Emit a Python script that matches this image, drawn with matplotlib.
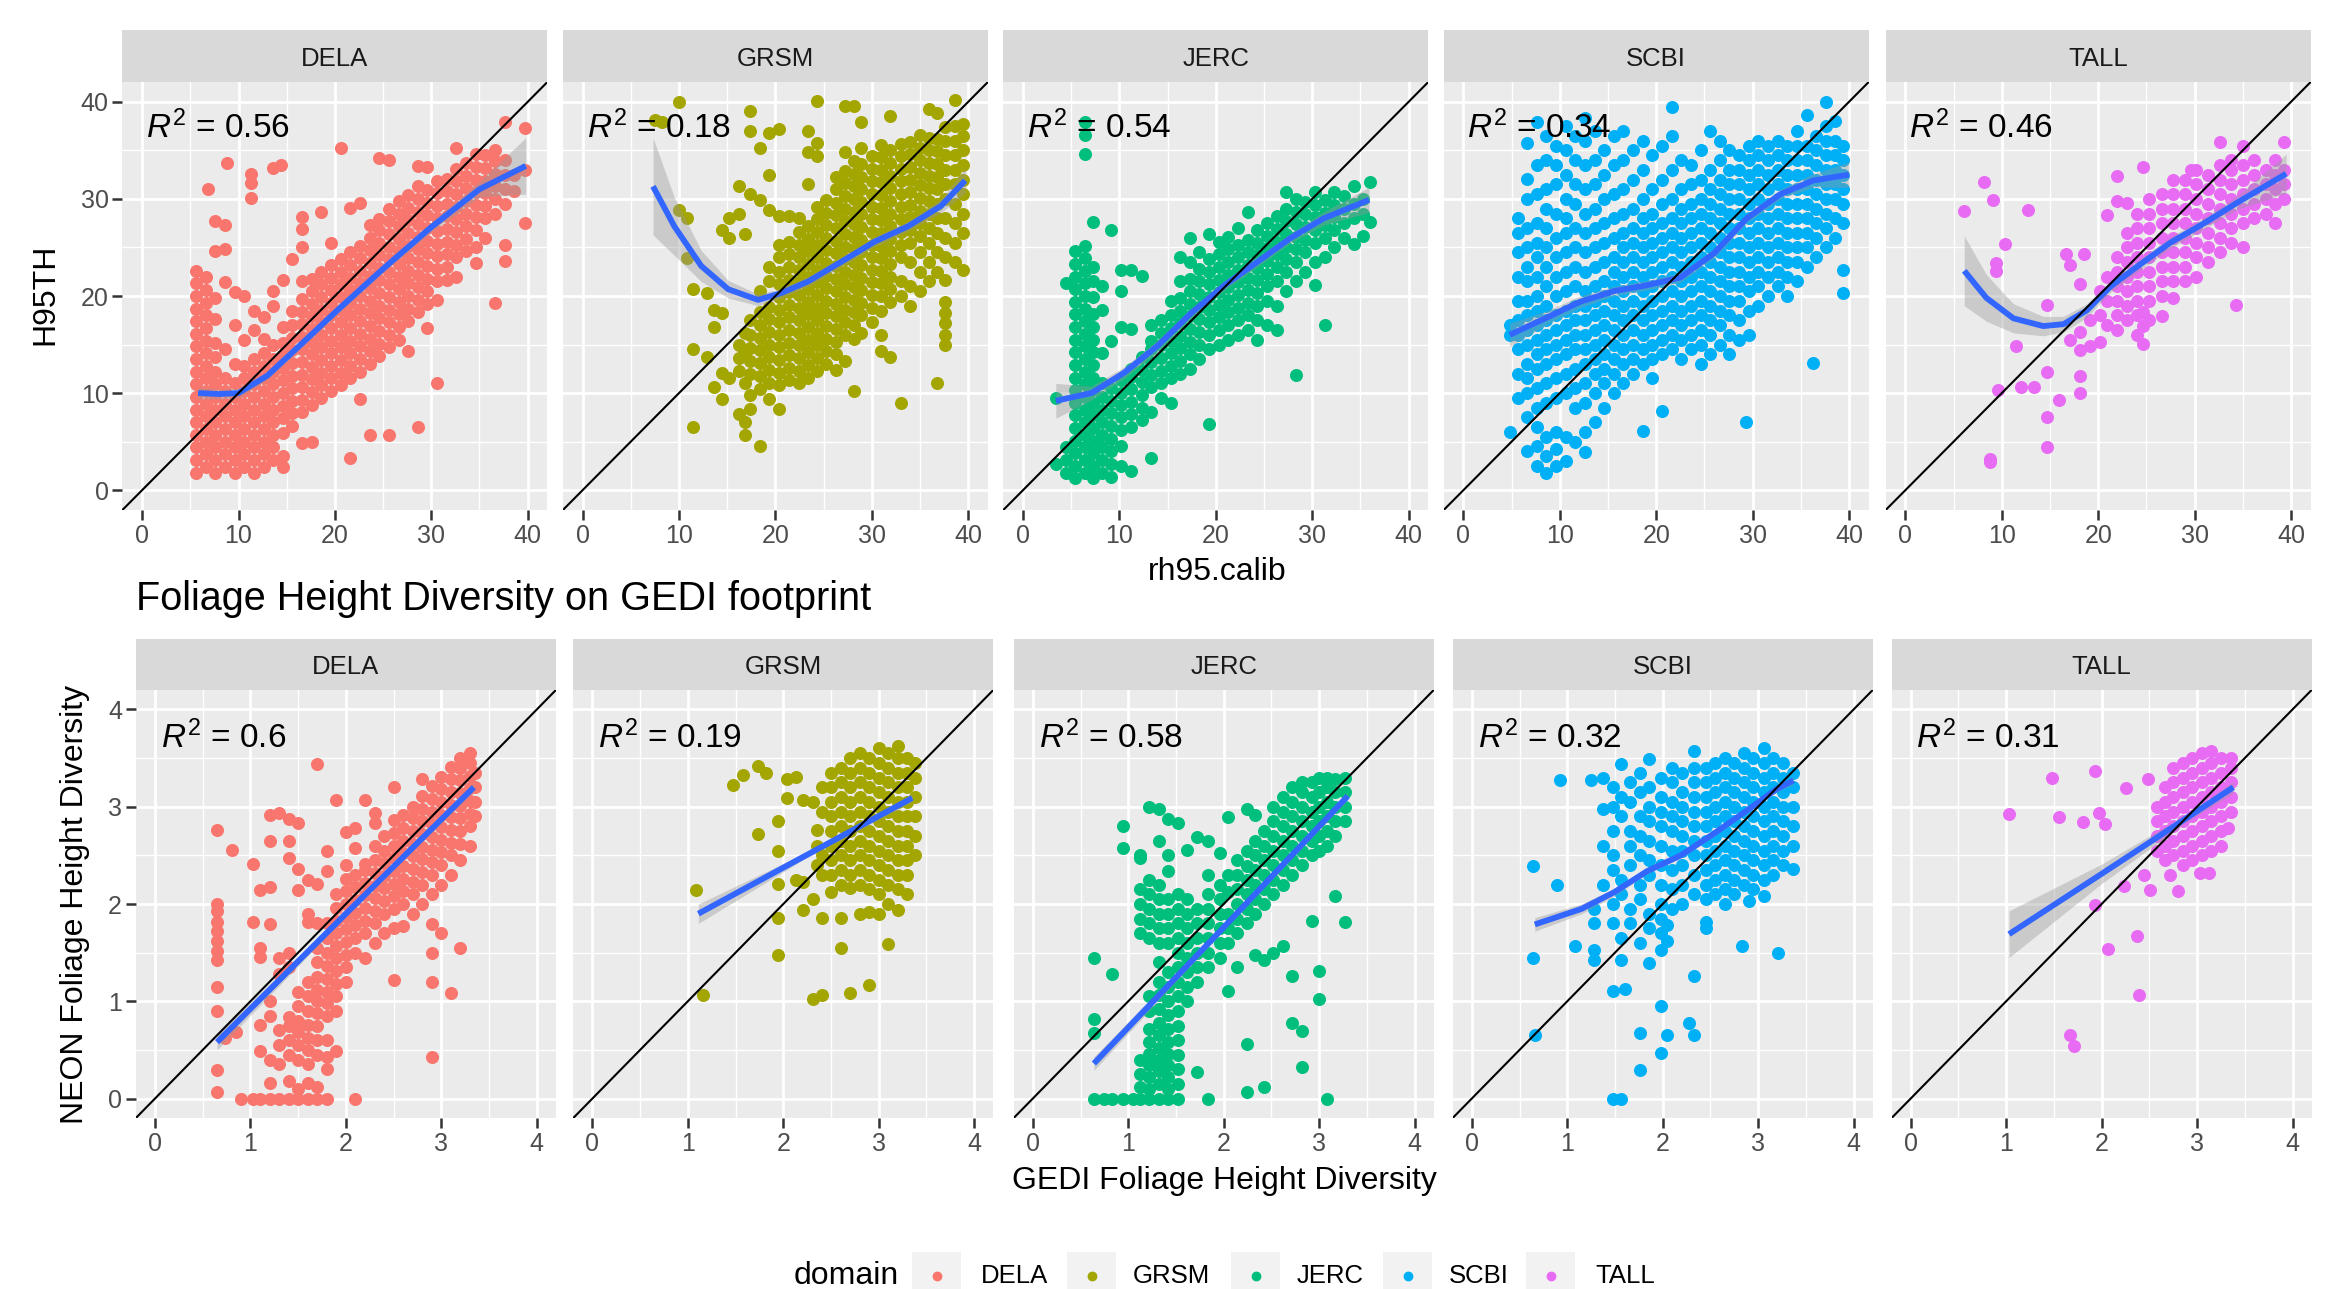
import numpy as np
import matplotlib
matplotlib.use("Agg")
import matplotlib.pyplot as plt
from matplotlib.patches import Rectangle

plt.rcParams['font.family'] = ['Liberation Sans', 'DejaVu Sans']
plt.rcParams['mathtext.fontset'] = 'custom'
plt.rcParams['mathtext.rm'] = 'Liberation Sans'
plt.rcParams['mathtext.it'] = 'Liberation Sans:italic'

domains = ["DELA", "GRSM", "JERC", "SCBI", "TALL"]
colors = ["#F8766D", "#A3A500", "#00BF7D", "#00B0F6", "#E76BF3"]
r2_rh95 = ["0.56", "0.18", "0.54", "0.34", "0.46"]
r2_fhd = ["0.6", "0.19", "0.58", "0.32", "0.31"]
rh95_ticks = [0, 10, 20, 30, 40]
fhd_ticks = [0, 1, 2, 3, 4]

# points, grouped as (x, [y values at that x])
# top row: rh95.calib vs H95TH
dela_rh95 = [
    (5.6, [1.8, 3.1, 4.4, 5.7, 7.0, 8.3, 9.6, 10.9, 12.2, 13.5, 14.8, 16.1, 17.4, 18.7, 20.0, 21.3, 22.6]),
    (6.6, [2.4, 3.7, 5.0, 6.3, 7.6, 8.9, 10.2, 11.5, 12.8, 14.1, 15.4, 16.7, 18.0, 19.3, 20.6, 22.0]),
    (6.8, [31.0]),
    (7.6, [1.8, 3.1, 4.4, 5.7, 7.0, 8.3, 9.6, 10.9, 12.2, 13.7, 15.2, 17.6, 19.8, 24.6, 27.7]),
    (8.6, [2.4, 3.7, 5.0, 6.3, 7.6, 8.9, 10.2, 11.6, 14.5, 21.4, 24.8, 27.3]),
    (8.8, [33.7]),
    (9.6, [1.8, 3.1, 4.4, 5.7, 7.0, 8.3, 9.6, 11.0, 13.0, 17.0, 20.4]),
    (10.6, [2.4, 3.7, 5.0, 6.3, 7.6, 8.9, 10.2, 11.5, 12.8, 15.5, 20.0]),
    (11.3, [30.1, 31.6, 32.6]),
    (11.6, [1.8, 3.1, 4.4, 5.7, 7.0, 8.3, 9.6, 10.9, 12.2, 13.5, 16.5, 18.5]),
    (12.6, [2.4, 3.7, 5.0, 6.3, 7.6, 8.9, 10.2, 11.5, 12.8, 14.1, 15.6, 17.8]),
    (13.6, [3.1, 4.4, 5.7, 7.0, 8.3, 9.6, 10.9, 12.2, 13.5, 15.0, 19.0, 20.5, 33.2]),
    (14.4, [33.5]),
    (14.6, [2.4, 3.5, 5.9, 7.4, 8.7, 10.0, 11.3, 12.6, 13.9, 15.2, 16.8, 21.6]),
    (15.6, [6.6, 7.9, 9.2, 10.5, 11.8, 13.1, 14.4, 15.7, 17.0, 18.5, 23.8]),
    (16.6, [4.9, 8.0, 9.3, 10.6, 11.9, 13.2, 14.5, 15.8, 17.1, 18.4, 19.7, 21.5, 25.0, 26.9, 28.1]),
    (17.6, [5.0, 8.8, 10.1, 11.4, 12.7, 14.0, 15.3, 16.6, 17.9, 19.2, 20.5, 21.8]),
    (18.6, [9.5, 10.8, 12.1, 13.4, 14.7, 16.0, 17.3, 18.6, 19.9, 21.2, 22.5, 28.7]),
    (19.6, [10.2, 11.5, 12.8, 14.1, 15.4, 16.7, 18.0, 19.3, 20.6, 21.9, 23.2, 25.5]),
    (20.6, [10.8, 12.1, 13.4, 14.7, 16.0, 17.3, 18.6, 19.9, 21.2, 22.5, 23.8, 35.2]),
    (21.6, [3.3, 11.5, 12.8, 14.1, 15.4, 16.7, 18.0, 19.3, 20.6, 21.9, 23.2, 24.5, 29.1]),
    (22.6, [9.4, 12.2, 13.5, 14.8, 16.1, 17.4, 18.7, 20.0, 21.3, 22.6, 23.9, 25.2, 29.6]),
    (23.6, [5.7, 13.0, 14.3, 15.6, 16.9, 18.2, 19.5, 20.8, 22.1, 23.4, 24.7, 26.0, 27.3]),
    (24.6, [13.8, 15.1, 16.4, 17.7, 19.0, 20.3, 21.6, 22.9, 24.2, 25.5, 26.8, 27.9, 34.2]),
    (25.6, [5.7, 14.7, 16.0, 17.3, 18.6, 19.9, 21.2, 22.5, 23.8, 25.1, 26.4, 27.7, 29.0, 34.0]),
    (26.6, [15.5, 16.8, 18.1, 19.4, 20.7, 22.0, 23.3, 24.6, 25.9, 27.2, 28.5, 29.8]),
    (27.6, [14.3, 17.4, 18.7, 20.0, 21.3, 22.6, 23.9, 25.2, 26.5, 27.8, 29.1, 30.4]),
    (28.6, [6.5, 18.3, 19.6, 20.9, 22.2, 23.5, 24.8, 26.1, 27.4, 28.7, 30.0, 31.3, 33.4]),
    (29.6, [16.7, 19.2, 20.5, 21.8, 23.1, 24.4, 25.7, 27.0, 28.3, 29.6, 30.9, 33.3]),
    (30.6, [11.0, 19.6, 21.5, 22.8, 24.1, 25.4, 26.7, 28.0, 29.3, 30.6, 31.9]),
    (31.6, [21.6, 23.0, 24.3, 25.6, 26.9, 28.2, 29.5, 30.8, 32.1]),
    (32.6, [22.0, 24.0, 25.3, 26.6, 27.9, 29.2, 30.5, 31.8, 33.1, 35.2]),
    (33.6, [24.6, 25.9, 27.2, 28.5, 29.8, 31.1, 32.4, 33.7]),
    (34.6, [23.4, 25.0, 26.8, 28.1, 29.4, 30.7, 32.0, 33.3, 34.6]),
    (35.6, [26.0, 28.0, 29.3, 30.6, 31.9, 33.2, 34.5]),
    (36.6, [19.3, 28.5, 30.0, 31.3, 32.6, 33.9, 35.0]),
    (37.6, [23.6, 25.3, 29.5, 31.0, 32.5, 34.0, 37.9]),
    (38.6, [30.8, 32.5]),
    (39.7, [27.5, 33.0, 37.3]),
]

grsm_rh95 = [
    (7.5, [38.1]),
    (8.2, [37.9]),
    (10.0, [40.0, 28.9]),
    (10.8, [28.0, 23.9]),
    (11.5, [20.7, 14.5, 6.5]),
    (12.9, [20.3, 13.7]),
    (13.6, [18.6, 16.8, 10.6]),
    (14.5, [26.8, 18.2, 12.1, 9.4]),
    (15.2, [28.0, 26.0, 11.5]),
    (16.2, [31.3, 28.4, 12.3, 13.6, 15.0, 7.8]),
    (16.8, [26.4, 11.0, 14.4, 16.2, 7.0, 5.7]),
    (17.4, [39.1, 37.0, 30.5, 9.8, 12.0, 13.3, 14.6, 16.0, 17.5, 8.4]),
    (18.4, [35.2, 29.9, 10.4, 11.8, 13.1, 14.4, 15.7, 17.0, 18.4, 20.5, 4.5]),
    (19.3, [36.8, 32.5, 28.9, 9.4, 11.0, 12.4, 13.7, 15.0, 16.3, 17.6, 18.9, 21.5, 23.0]),
    (20.4, [37.2, 28.2, 8.4, 10.8, 12.1, 13.4, 14.7, 16.0, 17.3, 18.6, 19.9, 21.2, 22.5, 24.0, 25.3]),
    (21.4, [28.2, 11.3, 12.6, 13.9, 15.2, 16.5, 17.8, 19.1, 20.4, 21.7, 23.0, 24.3, 25.6]),
    (22.4, [11.0, 12.3, 13.6, 14.9, 16.2, 17.5, 18.8, 20.1, 21.4, 22.7, 24.0, 25.3, 26.6, 28.0]),
    (23.4, [37.0, 34.8, 31.5, 11.6, 12.9, 14.2, 15.5, 16.8, 18.1, 19.4, 20.7, 22.0, 23.3, 24.6, 25.9, 27.2]),
    (24.3, [40.1, 35.8, 34.4, 12.3, 13.6, 14.9, 16.2, 17.5, 18.8, 20.1, 21.4, 22.7, 24.0, 25.3, 26.6, 27.9, 29.2]),
    (25.3, [13.0, 14.3, 15.6, 16.9, 18.2, 19.5, 20.8, 22.1, 23.4, 24.7, 26.0, 27.3, 28.6, 29.9]),
    (26.3, [12.4, 14.0, 15.3, 16.6, 17.9, 19.2, 20.5, 21.8, 23.1, 24.4, 25.7, 27.0, 28.3, 29.6, 31.0, 32.3]),
    (27.2, [39.6, 34.8, 13.3, 16.0, 17.3, 18.6, 19.9, 21.2, 22.5, 23.8, 25.1, 26.4, 27.7, 29.0, 30.3, 31.6, 32.9]),
    (28.2, [39.6, 10.2, 15.6, 17.0, 18.3, 19.6, 20.9, 22.2, 23.5, 24.8, 26.1, 27.4, 28.7, 30.0, 31.3, 32.6, 33.9]),
    (28.9, [37.9, 35.3, 16.2, 18.0, 19.3, 20.6, 21.9, 23.2, 24.5, 25.8, 27.1, 28.4, 29.7, 31.0, 32.3, 33.6]),
    (30.0, [17.3, 18.8, 20.1, 21.4, 22.7, 24.0, 25.3, 26.6, 27.9, 29.2, 30.5, 31.8, 33.1, 34.4]),
    (31.0, [16.0, 14.3, 18.5, 20.0, 21.3, 22.6, 23.9, 25.2, 26.5, 27.8, 29.1, 30.4, 31.7, 33.0, 34.3, 35.6]),
    (31.9, [38.5, 13.7, 19.4, 20.7, 22.0, 23.3, 24.6, 25.9, 27.2, 28.5, 29.8, 31.1, 32.4, 33.7, 35.0]),
    (33.0, [9.0, 20.0, 21.5, 24.0, 25.3, 26.6, 27.9, 29.2, 30.5, 31.8, 33.1, 34.4, 35.7]),
    (34.0, [19.0, 21.0, 23.5, 25.5, 26.8, 28.1, 29.4, 30.7, 32.0, 33.3, 34.6, 35.9]),
    (35.0, [20.5, 22.5, 24.5, 26.2, 27.5, 28.8, 30.1, 31.4, 32.7, 34.0, 35.3, 36.6]),
    (35.9, [39.3, 21.5, 23.5, 25.5, 27.0, 28.5, 29.8, 31.1, 32.4, 33.7, 35.0, 36.3]),
    (36.8, [38.9, 22.5, 24.5, 26.5, 28.0, 29.5, 31.0, 32.3, 33.6, 34.9, 36.2, 11.0]),
    (37.6, [14.9, 16.0, 17.2, 18.2, 19.4, 21.7, 24.0, 26.0, 28.0, 30.0, 31.5, 33.0, 34.5, 36.0, 37.4]),
    (38.6, [40.2, 23.5, 25.5, 27.5, 29.5, 31.5, 33.0, 34.5, 36.0, 37.5]),
    (39.5, [22.7, 26.5, 28.5, 30.5, 32.0, 33.5, 35.0, 36.5, 37.7]),
]

jerc_rh95 = [
    (3.4, [2.7, 9.5]),
    (4.5, [1.8, 3.1, 4.4, 21.3]),
    (5.4, [1.2, 2.5, 3.8, 5.1, 6.4, 7.7, 9.0, 10.3, 11.6, 12.9, 14.2, 15.5, 16.8, 18.1, 19.4, 20.7, 22.0, 23.3, 24.6]),
    (6.4, [1.8, 3.1, 4.4, 5.7, 7.0, 8.3, 9.6, 10.9, 12.2, 13.5, 14.8, 16.1, 17.4, 18.7, 20.0, 21.3, 22.6, 23.9, 25.2, 34.6, 36.6, 37.9]),
    (7.3, [1.2, 2.5, 3.8, 5.1, 6.4, 7.7, 9.0, 10.3, 11.6, 12.9, 14.2, 15.5, 16.8, 18.1, 19.9, 21.5, 23.0, 27.6]),
    (8.2, [1.8, 3.1, 4.4, 5.7, 7.0, 8.3, 9.6, 11.0, 14.1, 18.6, 21.0]),
    (9.1, [1.4, 2.7, 4.0, 5.3, 6.6, 7.9, 9.2, 10.5, 15.4, 26.8]),
    (10.2, [2.5, 4.5, 6.2, 7.5, 8.8, 10.0, 11.3, 16.8, 20.5, 22.7]),
    (11.2, [2.0, 6.5, 7.8, 9.1, 10.4, 11.7, 12.5, 16.6, 22.7]),
    (12.3, [7.2, 8.5, 9.8, 11.1, 12.4, 13.7, 22.1]),
    (13.3, [3.3, 8.0, 10.6, 11.9, 13.2, 14.5, 15.4, 17.0]),
    (14.3, [9.5, 11.0, 12.3, 13.6, 14.9, 16.2, 17.5]),
    (15.3, [9.0, 11.5, 12.8, 14.1, 15.4, 16.7, 18.0, 19.5]),
    (16.3, [12.0, 13.3, 14.6, 15.9, 17.2, 18.5, 19.8, 21.5, 24.0]),
    (17.3, [12.5, 14.0, 15.3, 16.6, 17.9, 19.2, 20.5, 21.8, 23.5, 26.0]),
    (18.3, [13.5, 15.0, 16.3, 17.6, 18.9, 20.2, 21.5, 22.8, 24.5]),
    (19.3, [6.8, 14.5, 16.0, 17.3, 18.6, 19.9, 21.2, 22.5, 23.8, 26.4]),
    (20.3, [15.0, 16.5, 17.8, 19.1, 20.4, 21.7, 23.0, 24.3, 25.6]),
    (21.3, [15.5, 17.0, 18.3, 19.6, 20.9, 22.2, 23.5, 24.8, 26.1]),
    (22.3, [16.0, 17.5, 18.8, 20.1, 21.4, 22.7, 24.0, 25.3, 27.0]),
    (23.3, [16.5, 18.0, 19.3, 20.6, 21.9, 23.2, 24.5, 25.8, 28.7]),
    (24.3, [15.5, 17.5, 19.0, 20.3, 21.6, 22.9, 24.2, 25.5, 26.8]),
    (25.3, [17.0, 19.5, 21.0, 22.3, 23.6, 24.9, 26.2, 27.5]),
    (26.3, [16.5, 19.0, 21.5, 23.0, 24.3, 25.6, 26.9, 28.2]),
    (27.3, [20.5, 22.5, 23.8, 25.1, 26.4, 27.7, 29.0, 30.7]),
    (28.3, [11.9, 21.5, 23.5, 24.8, 26.1, 27.4, 28.7, 30.0]),
    (29.3, [22.5, 24.5, 25.8, 27.1, 28.4, 29.7]),
    (30.3, [21.1, 23.5, 25.5, 26.8, 28.1, 29.4, 30.7]),
    (31.3, [17.0, 24.0, 26.0, 27.3, 28.6, 29.9]),
    (32.3, [25.0, 26.8, 28.1, 29.4, 30.7]),
    (33.3, [26.0, 27.5, 29.0, 30.3]),
    (34.3, [25.4, 28.0, 29.5, 31.3]),
    (35.3, [26.2, 28.5, 30.0]),
    (36.0, [27.6, 31.7]),
]

scbi_rh95 = [
    (4.8, [6.0, 16.0, 17.0]),
    (5.7, [9.5, 12.0, 14.5, 16.0, 17.5, 19.5, 22.0, 24.5, 26.5, 28.0]),
    (6.6, [4.0, 7.5, 10.0, 11.5, 13.0, 15.0, 16.5, 18.0, 19.5, 21.5, 23.0, 25.0, 27.0, 30.0, 32.1, 35.8]),
    (7.6, [2.5, 4.5, 6.5, 8.5, 10.5, 12.5, 14.0, 15.5, 17.0, 18.5, 20.0, 22.0, 24.0, 25.5, 27.5, 30.5, 33.5, 37.9]),
    (8.6, [1.8, 3.5, 5.5, 9.0, 11.0, 13.0, 14.5, 16.0, 17.5, 19.0, 21.0, 23.0, 25.0, 27.0, 29.0, 31.0, 34.0, 36.5]),
    (9.6, [2.5, 4.2, 6.0, 9.5, 11.5, 13.5, 15.0, 16.5, 18.0, 20.0, 22.0, 24.0, 26.0, 28.5, 31.5, 33.5, 35.5]),
    (10.6, [3.0, 5.5, 10.0, 12.0, 14.0, 15.5, 17.0, 18.5, 20.5, 22.5, 24.5, 26.5, 28.0, 30.0, 32.5, 35.0, 37.5]),
    (11.6, [5.0, 8.5, 10.5, 12.5, 14.5, 16.0, 17.5, 19.0, 21.0, 23.0, 25.0, 27.0, 29.5, 31.5, 34.0, 36.5]),
    (12.6, [3.9, 6.0, 9.0, 11.0, 13.0, 14.5, 16.0, 17.5, 19.0, 20.5, 22.5, 24.5, 26.5, 28.5, 31.0, 33.5, 36.0, 38.3]),
    (13.6, [7.0, 10.0, 12.0, 13.5, 15.0, 16.5, 18.0, 19.5, 21.0, 23.0, 25.0, 27.0, 29.0, 31.5, 34.0, 37.0]),
    (14.6, [8.5, 11.0, 12.5, 14.0, 15.5, 17.0, 18.5, 20.0, 21.5, 23.5, 25.5, 27.5, 30.0, 32.5, 35.0]),
    (15.6, [10.0, 12.0, 13.5, 15.0, 16.5, 18.0, 19.5, 21.0, 22.5, 24.0, 26.0, 28.0, 30.5, 33.5, 36.5]),
    (16.6, [11.0, 13.0, 14.5, 16.0, 17.5, 19.0, 20.5, 22.0, 23.5, 25.0, 26.5, 28.5, 31.0, 34.0, 37.0]),
    (17.6, [12.0, 13.5, 15.0, 16.5, 18.0, 19.5, 21.0, 22.5, 24.0, 25.5, 27.0, 29.0, 32.0, 35.0]),
    (18.6, [6.1, 13.0, 14.5, 16.0, 17.5, 19.0, 20.5, 22.0, 23.5, 25.0, 26.5, 28.0, 30.0, 33.0, 36.0]),
    (19.6, [11.5, 13.5, 15.0, 16.5, 18.0, 19.5, 21.0, 22.5, 24.0, 25.5, 27.0, 28.5, 31.0, 34.5]),
    (20.6, [8.2, 14.0, 15.5, 17.0, 18.5, 20.0, 21.5, 23.0, 24.5, 26.0, 27.5, 29.5, 32.0, 35.5]),
    (21.6, [14.5, 16.0, 17.5, 19.0, 20.5, 22.0, 23.5, 25.0, 26.5, 28.0, 30.0, 33.0, 36.5, 39.5]),
    (22.6, [13.5, 15.5, 17.0, 18.5, 20.0, 21.5, 23.0, 24.5, 26.0, 27.5, 29.0, 31.0, 34.0]),
    (23.6, [14.5, 16.0, 17.5, 19.0, 20.5, 22.0, 23.5, 25.0, 26.5, 28.0, 29.5, 31.5, 33.5]),
    (24.6, [13.0, 15.0, 16.5, 18.0, 19.5, 21.0, 22.5, 24.0, 25.5, 27.0, 28.5, 30.0, 32.0, 35.0]),
    (25.6, [14.0, 16.0, 17.5, 19.0, 20.5, 22.0, 23.5, 25.0, 26.5, 28.0, 29.5, 31.0, 33.0, 37.0]),
    (26.6, [15.0, 17.0, 18.5, 20.0, 21.5, 23.0, 24.5, 26.0, 27.5, 29.0, 30.5, 32.0, 34.0, 36.0]),
    (27.6, [14.0, 16.0, 18.0, 19.5, 21.0, 22.5, 24.0, 25.5, 27.0, 28.5, 30.0, 31.5, 33.0, 35.0]),
    (28.6, [15.5, 17.5, 19.5, 21.0, 22.5, 24.0, 25.5, 27.0, 28.5, 30.0, 31.5, 33.0, 34.5]),
    (29.3, [7.0]),
    (29.6, [16.0, 18.5, 20.5, 22.0, 23.5, 25.0, 26.5, 28.0, 29.5, 31.0, 32.5, 34.0, 35.5]),
    (30.6, [19.0, 21.0, 22.5, 24.0, 25.5, 27.0, 28.5, 30.0, 31.5, 33.0, 34.5, 36.0]),
    (31.6, [20.0, 22.0, 23.5, 25.0, 26.5, 28.0, 29.5, 31.0, 32.5, 34.0, 35.5]),
    (32.6, [21.0, 22.5, 24.0, 25.5, 27.0, 28.5, 30.0, 31.5, 33.0, 34.5, 36.0]),
    (33.6, [20.0, 22.0, 23.5, 25.0, 26.5, 28.0, 29.5, 31.0, 32.5, 34.0, 35.5]),
    (34.6, [21.5, 23.5, 25.0, 26.5, 28.0, 29.5, 31.0, 32.5, 34.0, 35.5, 37.0]),
    (35.6, [23.0, 25.0, 26.5, 28.0, 29.5, 31.0, 32.5, 34.0, 35.5, 38.7]),
    (36.3, [13.1]),
    (36.6, [24.0, 26.0, 27.5, 29.0, 30.5, 32.0, 33.5, 35.0, 36.5]),
    (37.6, [25.0, 27.0, 28.5, 30.0, 31.5, 33.0, 34.5, 36.0, 37.5, 40.0]),
    (38.6, [26.0, 28.0, 30.0, 31.5, 33.0, 34.5, 36.0, 38.0]),
    (39.4, [20.3, 22.7, 27.5, 29.5, 31.0, 32.5, 34.0, 35.5]),
]

tall_rh95 = [
    (6.1, [28.8]),
    (8.1, [31.7]),
    (8.8, [2.9, 3.2]),
    (9.1, [29.9]),
    (9.4, [23.4, 22.6]),
    (9.6, [10.3]),
    (10.3, [25.4]),
    (11.5, [14.8]),
    (12.0, [10.6]),
    (12.7, [28.9]),
    (13.3, [10.6]),
    (14.7, [19.1, 12.2, 7.5, 4.4]),
    (15.9, [9.3]),
    (16.7, [24.3]),
    (17.1, [23.2, 15.5]),
    (18.1, [21.2, 16.3, 14.4, 11.8, 10.0]),
    (18.5, [24.3]),
    (19.2, [14.8, 17.5]),
    (20.2, [15.3, 18.0, 20.5]),
    (20.9, [28.3, 17.0, 19.5, 22.0]),
    (21.9, [32.4, 29.8, 16.5, 18.0, 19.5, 21.0, 22.5, 24.0]),
    (23.0, [29.6, 17.5, 19.0, 20.5, 22.0, 23.5, 25.0, 26.5]),
    (24.0, [16.0, 18.0, 19.5, 21.0, 22.5, 24.0, 25.5, 27.0, 28.5]),
    (24.7, [33.3, 15.1, 16.9, 18.3]),
    (25.3, [17.5, 19.5, 21.0, 22.5, 24.0, 25.5, 27.0, 28.5, 30.0]),
    (26.6, [17.9, 20.0, 21.5, 23.0, 24.5, 26.0, 27.5, 29.0, 30.5]),
    (27.8, [19.8, 21.5, 23.0, 24.5, 26.0, 27.5, 29.0, 30.5, 32.0]),
    (29.0, [21.5, 23.0, 24.5, 26.0, 27.5, 29.0, 30.5, 32.0]),
    (29.6, [33.0]),
    (30.2, [22.0, 24.0, 25.5, 27.0, 28.5, 30.0, 31.5, 33.0]),
    (31.4, [23.5, 25.0, 26.5, 28.0, 29.5, 31.0, 32.5]),
    (32.6, [24.5, 26.0, 27.5, 29.0, 30.5, 32.0, 33.5, 35.9]),
    (33.8, [25.5, 27.0, 28.5, 30.0, 31.5, 33.0, 34.0]),
    (34.3, [19.1]),
    (35.0, [25.1, 27.5, 29.0, 30.5, 32.0, 33.5, 35.5]),
    (36.2, [28.0, 29.5, 31.0, 32.5, 34.0]),
    (37.4, [28.5, 30.0, 31.5, 33.0]),
    (38.3, [27.5, 29.5, 31.0, 32.5, 34.0]),
    (39.3, [30.0, 31.5, 33.0, 35.9]),
]

# bottom row: GEDI vs NEON foliage height diversity
dela_fhd = [
    (0.65, [0.07, 0.29, 0.9, 1.15, 1.42, 1.52, 1.62, 1.72, 1.82, 1.93, 2.0, 2.76]),
    (0.73, [0.62]),
    (0.81, [2.56]),
    (0.85, [0.68]),
    (0.90, [0.0]),
    (1.03, [0.0, 1.81, 2.41]),
    (1.10, [0.0, 0.49, 0.76, 1.46, 1.55, 2.14]),
    (1.2, [0.0, 0.16, 0.4, 0.85, 1.0, 1.79, 2.17, 2.65, 2.91]),
    (1.3, [0.0, 0.36, 0.55, 0.7, 1.28, 1.45, 2.94]),
    (1.4, [0.0, 0.18, 0.45, 0.6, 0.75, 0.84, 1.35, 1.5, 2.47, 2.65, 2.87]),
    (1.5, [0.0, 0.1, 0.4, 0.55, 0.68, 0.8, 0.95, 1.1, 2.14, 2.36, 2.83]),
    (1.6, [0.0, 0.16, 0.36, 0.5, 0.62, 0.76, 0.9, 1.05, 1.2, 1.81, 1.9, 2.25]),
    (1.7, [0.0, 0.12, 0.45, 0.6, 0.75, 0.88, 1.0, 1.12, 1.25, 1.4, 1.55, 1.8, 2.21, 3.44]),
    (1.8, [0.0, 0.3, 0.43, 0.6, 0.85, 0.98, 1.1, 1.23, 1.36, 1.5, 1.65, 1.8, 2.34, 2.54]),
    (1.9, [0.49, 0.9, 1.05, 1.18, 1.31, 1.44, 1.57, 1.7, 1.83, 1.96, 2.1, 3.07]),
    (2.0, [1.2, 1.35, 1.48, 1.61, 1.74, 1.87, 2.0, 2.13, 2.26, 2.4, 2.74]),
    (2.1, [0.0, 1.5, 1.65, 1.78, 1.91, 2.04, 2.17, 2.3, 2.58, 2.78]),
    (2.2, [1.45, 1.7, 1.83, 1.96, 2.09, 2.22, 2.35, 2.41, 3.07]),
    (2.3, [1.6, 1.8, 1.93, 2.06, 2.19, 2.32, 2.45, 2.6, 2.83, 2.94]),
    (2.4, [1.7, 1.9, 2.03, 2.16, 2.29, 2.42, 2.55, 2.7]),
    (2.5, [1.22, 1.75, 1.95, 2.08, 2.21, 2.34, 2.47, 2.6, 2.73, 2.86, 3.2]),
    (2.6, [1.77, 2.0, 2.13, 2.26, 2.39, 2.52, 2.65, 2.78, 2.91]),
    (2.7, [1.9, 2.1, 2.23, 2.36, 2.49, 2.62, 2.75, 2.88, 3.0]),
    (2.8, [2.0, 2.2, 2.33, 2.46, 2.59, 2.72, 2.85, 2.98, 3.11, 3.29]),
    (2.9, [0.43, 1.2, 1.5, 1.79, 2.1, 2.3, 2.43, 2.56, 2.69, 2.82, 2.95, 3.08, 3.21]),
    (3.0, [1.7, 2.2, 2.4, 2.53, 2.66, 2.79, 2.92, 3.05, 3.18, 3.31]),
    (3.1, [1.09, 2.3, 2.5, 2.63, 2.76, 2.89, 3.02, 3.15, 3.28, 3.41]),
    (3.2, [1.55, 2.45, 2.62, 2.75, 2.88, 3.01, 3.14, 3.27, 3.4, 3.5]),
    (3.3, [2.6, 2.8, 2.93, 3.06, 3.19, 3.32, 3.45, 3.55]),
    (3.35, [2.9, 3.05, 3.2, 3.35]),
]

grsm_fhd = [
    (1.09, [2.14]),
    (1.16, [1.06]),
    (1.47, [3.22]),
    (1.58, [3.33]),
    (1.73, [3.42, 2.72]),
    (1.82, [3.35]),
    (1.94, [2.85, 2.54, 2.21, 1.86, 1.48]),
    (2.04, [3.29, 3.09]),
    (2.13, [3.31, 2.25]),
    (2.21, [3.07, 2.23, 1.94]),
    (2.31, [3.05, 2.05, 1.02]),
    (2.35, [2.76, 2.4, 2.6]),
    (2.41, [1.86, 1.06, 2.3, 2.5, 2.95, 3.2]),
    (2.5, [2.12, 2.3, 2.45, 2.6, 2.75, 2.9, 3.05, 3.2, 3.35]),
    (2.6, [1.86, 2.2, 2.35, 2.5, 2.65, 2.8, 2.95, 3.1, 3.25, 3.4, 1.55]),
    (2.7, [1.09, 2.16, 2.3, 2.45, 2.6, 2.75, 2.9, 3.05, 3.2, 3.35, 3.5]),
    (2.8, [1.9, 2.2, 2.35, 2.5, 2.65, 2.8, 2.95, 3.1, 3.25, 3.4, 3.55]),
    (2.9, [1.17, 1.92, 2.15, 2.3, 2.45, 2.6, 2.75, 2.9, 3.05, 3.2, 3.35, 3.5]),
    (3.0, [1.9, 2.1, 2.25, 2.4, 2.55, 2.7, 2.85, 3.0, 3.15, 3.3, 3.45, 3.6]),
    (3.1, [1.59, 2.0, 2.2, 2.35, 2.5, 2.65, 2.8, 2.95, 3.1, 3.25, 3.4, 3.55]),
    (3.2, [1.94, 2.15, 2.3, 2.45, 2.6, 2.75, 2.9, 3.05, 3.2, 3.35, 3.5, 3.62]),
    (3.3, [2.1, 2.3, 2.45, 2.6, 2.75, 2.9, 3.05, 3.2, 3.35, 3.5]),
    (3.38, [2.5, 2.7, 2.9, 3.1, 3.3, 3.45]),
]

jerc_fhd = [
    (0.64, [0.0, 0.67, 0.82, 1.44]),
    (0.75, [0.0]),
    (0.83, [0.0, 1.28]),
    (0.95, [0.0, 2.58, 2.8]),
    (1.05, [0.0]),
    (1.12, [0.0, 0.12, 0.25, 0.4, 1.7, 1.85, 2.0, 2.15, 2.47, 2.5]),
    (1.22, [0.0, 0.1, 0.22, 0.34, 0.46, 0.58, 0.72, 0.9, 1.05, 1.65, 1.8, 1.95, 2.1, 2.25, 3.0]),
    (1.32, [0.0, 0.15, 0.28, 0.4, 0.52, 0.65, 0.78, 0.92, 1.06, 1.2, 1.4, 1.6, 1.75, 1.9, 2.05, 2.2, 2.65, 2.98]),
    (1.42, [0.0, 0.1, 0.22, 0.34, 0.46, 0.58, 0.72, 0.86, 1.0, 1.15, 1.3, 1.6, 1.75, 1.9, 2.05, 2.34, 2.5, 2.87]),
    (1.52, [0.0, 0.15, 0.3, 0.45, 0.6, 0.75, 0.9, 1.05, 1.2, 1.35, 1.5, 1.65, 1.8, 1.95, 2.1, 2.83]),
    (1.62, [1.0, 1.15, 1.3, 1.45, 1.6, 1.75, 1.9, 2.05, 2.56]),
    (1.72, [0.27, 1.2, 1.35, 1.5, 1.65, 1.8, 1.95, 2.69]),
    (1.84, [0.0, 1.35, 1.5, 1.65, 1.8, 1.95, 2.1, 2.3, 2.65]),
    (1.96, [1.45, 1.6, 1.75, 1.9, 2.05, 2.2, 2.52]),
    (2.05, [1.11, 1.6, 1.75, 1.9, 2.12, 2.3, 2.89]),
    (2.14, [1.35, 1.7, 1.85, 2.0, 2.15, 2.3, 2.45]),
    (2.24, [0.07, 0.56, 1.8, 1.95, 2.1, 2.25, 2.39, 2.55, 2.98]),
    (2.33, [1.48, 1.9, 2.05, 2.2, 2.35, 2.5, 2.65, 2.91]),
    (2.42, [0.12, 1.42, 2.0, 2.15, 2.3, 2.45, 2.6, 2.75]),
    (2.52, [1.5, 2.1, 2.25, 2.4, 2.55, 2.7, 2.85, 3.0]),
    (2.62, [1.57, 2.2, 2.35, 2.5, 2.65, 2.8, 2.95, 3.1]),
    (2.72, [0.78, 1.26, 2.3, 2.45, 2.6, 2.75, 2.9, 3.05, 3.2]),
    (2.82, [0.32, 0.69, 2.4, 2.55, 2.7, 2.85, 3.0, 3.15, 3.25]),
    (2.92, [1.83, 2.5, 2.65, 2.8, 2.95, 3.1, 3.25]),
    (3.0, [1.02, 1.31, 2.55, 2.7, 2.85, 3.0, 3.15, 3.3]),
    (3.08, [0.0, 2.6, 2.75, 2.9, 3.05, 3.2, 3.3]),
    (3.17, [2.08, 2.7, 2.85, 3.0, 3.15, 3.28]),
    (3.27, [1.81, 2.85, 3.0, 3.15, 3.3]),
]

scbi_fhd = [
    (0.64, [1.44, 2.39]),
    (0.66, [0.65]),
    (0.89, [2.2]),
    (0.92, [3.27]),
    (1.08, [1.57]),
    (1.25, [3.27]),
    (1.28, [1.42, 1.53, 1.8, 1.95]),
    (1.37, [2.98, 2.2, 2.6, 3.3]),
    (1.48, [0.0, 1.11, 1.8, 2.0, 2.35, 2.5, 2.75, 3.0, 3.2]),
    (1.56, [0.0, 1.42, 1.65, 2.1, 2.25, 2.9, 3.1, 3.44]),
    (1.6, [1.13]),
    (1.66, [1.8, 1.95, 2.4, 2.6, 2.75, 3.05, 3.25]),
    (1.76, [0.29, 0.67, 1.6, 2.05, 2.2, 2.5, 2.7, 2.9, 3.15, 3.35]),
    (1.86, [1.39, 1.75, 1.9, 2.3, 2.45, 2.65, 2.85, 3.0, 3.2, 3.49]),
    (1.98, [0.47, 0.95, 1.53, 1.7, 1.85, 2.0, 2.2, 2.4, 2.6, 2.8, 2.95, 3.1, 3.3]),
    (2.05, [0.65, 1.62, 1.78]),
    (2.1, [1.95, 2.15, 2.35, 2.55, 2.75, 2.9, 3.05, 3.25, 3.4]),
    (2.2, [2.0, 2.2, 2.4, 2.55, 2.7, 2.85, 3.0, 3.15, 3.35]),
    (2.28, [0.78]),
    (2.33, [0.65, 1.26, 2.1, 2.3, 2.5, 2.65, 2.8, 2.95, 3.1, 3.25, 3.4, 3.57]),
    (2.45, [1.81, 1.75, 2.05, 2.2, 2.35, 2.5, 2.65, 2.8, 2.95, 3.1, 3.25, 3.4]),
    (2.55, [2.1, 2.25, 2.4, 2.55, 2.7, 2.85, 3.0, 3.15, 3.3, 3.45]),
    (2.65, [2.0, 2.15, 2.3, 2.45, 2.6, 2.75, 2.9, 3.05, 3.2, 3.35, 3.5]),
    (2.75, [2.1, 2.25, 2.4, 2.55, 2.7, 2.85, 3.0, 3.15, 3.3, 3.45]),
    (2.83, [1.57]),
    (2.85, [2.2, 2.35, 2.5, 2.65, 2.8, 2.95, 3.1, 3.25, 3.4, 3.55]),
    (2.9, [2.03]),
    (2.95, [2.15, 2.3, 2.45, 2.6, 2.75, 2.9, 3.05, 3.2, 3.35, 3.5]),
    (3.06, [2.08, 2.25, 2.4, 2.55, 2.7, 2.85, 3.0, 3.15, 3.3, 3.45, 3.6]),
    (3.16, [2.3, 2.45, 2.6, 2.75, 2.9, 3.05, 3.2, 3.35, 3.5]),
    (3.21, [1.5]),
    (3.26, [2.4, 2.55, 2.7, 2.85, 3.0, 3.15, 3.3, 3.45]),
    (3.36, [2.36, 2.6, 2.8, 3.0, 3.2, 3.35]),
]

tall_fhd = [
    (1.03, [2.93]),
    (1.48, [3.3]),
    (1.55, [2.89]),
    (1.67, [0.65]),
    (1.71, [0.54]),
    (1.81, [2.84]),
    (1.93, [3.37, 1.99]),
    (1.97, [2.94]),
    (2.04, [2.82]),
    (2.07, [1.54]),
    (2.23, [2.19]),
    (2.26, [3.19]),
    (2.37, [1.67]),
    (2.39, [1.06]),
    (2.44, [2.3]),
    (2.49, [3.29]),
    (2.51, [2.14]),
    (2.58, [2.55, 2.7, 2.85, 3.0]),
    (2.66, [2.45, 2.6, 2.75, 2.9, 3.05, 3.2]),
    (2.72, [2.3]),
    (2.75, [2.5, 2.65, 2.8, 2.95, 3.1, 3.25, 3.4]),
    (2.8, [2.13]),
    (2.85, [2.4, 2.55, 2.7, 2.85, 3.0, 3.15, 3.3, 3.45]),
    (2.95, [2.45, 2.6, 2.75, 2.9, 3.05, 3.2, 3.35, 3.5]),
    (3.03, [2.32]),
    (3.05, [2.5, 2.65, 2.8, 2.95, 3.1, 3.25, 3.4, 3.55]),
    (3.13, [2.32]),
    (3.15, [2.55, 2.7, 2.85, 3.0, 3.15, 3.3, 3.45, 3.57]),
    (3.25, [2.6, 2.75, 2.9, 3.05, 3.2, 3.35, 3.5]),
    (3.32, [2.78]),
    (3.36, [2.95, 3.1, 3.25, 3.4, 3.5]),
]

# smooth fits: (x, y, half width of the grey band)
dela_rh95_fit = [(5.8, 10.0, 0.6), (8, 9.9, 0.5), (10, 10.0, 0.5), (13, 11.8, 0.4), (17, 15.5, 0.4),
                 (20, 18.3, 0.4), (25, 22.8, 0.4), (30, 27.1, 0.5), (35, 31.0, 0.8), (39.8, 33.4, 2.9)]
grsm_rh95_fit = [(7.3, 31.3, 5.0), (9.5, 27.2, 3.0), (12.3, 23.1, 1.6), (15.1, 20.7, 0.9), (18.2, 19.6, 0.6),
                 (20.6, 20.3, 0.5), (23.4, 21.5, 0.5), (26.8, 23.5, 0.5), (30.3, 25.6, 0.5), (33.8, 27.2, 0.5),
                 (37.2, 29.3, 0.7), (39.7, 31.9, 1.3)]
jerc_rh95_fit = [(3.4, 9.2, 1.8), (7.1, 10.0, 0.7), (10.5, 12.1, 0.6), (14, 14.9, 0.6), (17.4, 18.2, 0.5),
                 (20.9, 21.1, 0.5), (24.3, 23.5, 0.5), (27.8, 26.0, 0.5), (31.2, 28.0, 0.7), (35.9, 29.9, 1.3)]
scbi_rh95_fit = [(4.8, 16.0, 1.2), (8.7, 17.8, 0.7), (12.1, 19.4, 0.6), (15.6, 20.5, 0.5), (19, 21.1, 0.5),
                 (22.5, 21.9, 0.5), (26, 24.4, 0.5), (29.4, 28.0, 0.5), (32.9, 30.5, 0.5), (36.3, 31.9, 0.7),
                 (40, 32.5, 1.3)]
tall_rh95_fit = [(6.1, 22.6, 3.6), (8.4, 19.8, 2.4), (11.2, 17.7, 1.5), (14.3, 16.9, 1.0), (16.4, 17.1, 0.8),
                 (18.8, 18.5, 0.7), (21.3, 21.0, 0.6), (24, 23.0, 0.6), (27.5, 25.5, 0.6), (31, 27.5, 0.6),
                 (34.4, 29.6, 0.7), (39.5, 32.6, 2.0)]

dela_fhd_fit = [(0.65, 0.58, 0.08), (2.0, 1.9, 0.03), (3.34, 3.2, 0.04)]
grsm_fhd_fit = [(1.11, 1.9, 0.1), (2.2, 2.48, 0.03), (3.35, 3.09, 0.04)]
jerc_fhd_fit = [(0.64, 0.36, 0.07), (2.0, 1.76, 0.03), (3.3, 3.11, 0.04)]
scbi_fhd_fit = [(0.66, 1.79, 0.07), (1.15, 1.95, 0.05), (1.49, 2.12, 0.04), (1.84, 2.34, 0.03),
                (2.19, 2.5, 0.03), (2.53, 2.72, 0.03), (2.88, 2.96, 0.03), (3.19, 3.18, 0.03), (3.37, 3.27, 0.04)]
tall_fhd_fit = [(1.03, 1.69, 0.24), (2.0, 2.31, 0.1), (2.9, 2.89, 0.04), (3.38, 3.2, 0.06)]

rh95_points = [dela_rh95, grsm_rh95, jerc_rh95, scbi_rh95, tall_rh95]
rh95_fits = [dela_rh95_fit, grsm_rh95_fit, jerc_rh95_fit, scbi_rh95_fit, tall_rh95_fit]
fhd_points = [dela_fhd, grsm_fhd, jerc_fhd, scbi_fhd, tall_fhd]
fhd_fits = [dela_fhd_fit, grsm_fhd_fit, jerc_fhd_fit, scbi_fhd_fit, tall_fhd_fit]

W, H = 2341, 1289
fig = plt.figure(figsize=(W / 100, H / 100), dpi=100)


def rect(left, top, width, height):
    return [left / W, 1 - (top + height) / H, width / W, height / H]


def unpack(cols):
    xs, ys = [], []
    for x, yl in cols:
        xs += [x] * len(yl)
        ys += yl
    return xs, ys


def draw_panel(left, top, width, height, strip_top, name, color, cols, fit,
               lim, ticks, minor, r2, r2_xy, first):
    sax = fig.add_axes(rect(left, strip_top, width, top - strip_top))
    sax.set_facecolor("#D9D9D9")
    sax.set_xticks([])
    sax.set_yticks([])
    for s in sax.spines.values():
        s.set_visible(False)
    sax.text(0.5, 0.45, name, ha="center", va="center", fontsize=18.5,
             color="#1A1A1A", transform=sax.transAxes)

    ax = fig.add_axes(rect(left, top, width, height))
    ax.set_facecolor("#EBEBEB")
    xs, ys = unpack(cols)
    ax.scatter(xs, ys, s=88, color=color, linewidths=0, zorder=2)
    fx = np.array([p[0] for p in fit])
    fy = np.array([p[1] for p in fit])
    fs = np.array([p[2] for p in fit])
    ax.fill_between(fx, fy - fs, fy + fs, color="#999999", alpha=0.4, linewidth=0, zorder=3)
    ax.plot(fx, fy, color="#3366FF", lw=4.2, zorder=4, solid_capstyle="butt",
            solid_joinstyle="round")
    ax.axline((0, 0), slope=1, color="black", lw=1.5, zorder=5)
    ax.text(r2_xy[0], r2_xy[1], r"$R^2$ = " + r2, fontsize=24, ha="left",
            va="center", color="black", zorder=6)

    ax.set_xlim(lim)
    ax.set_ylim(lim)
    ax.set_xticks(ticks)
    ax.set_yticks(ticks)
    ax.set_xticks(minor, minor=True)
    ax.set_yticks(minor, minor=True)
    ax.set_axisbelow(True)
    ax.grid(which="major", color="white", lw=2.0)
    ax.grid(which="minor", color="white", lw=1.0)
    for s in ax.spines.values():
        s.set_visible(False)
    ax.tick_params(which="major", length=7, width=1.8, color="#333333",
                   labelcolor="#4D4D4D", labelsize=18, pad=3)
    ax.tick_params(which="minor", length=0)
    if not first:
        ax.tick_params(axis="y", left=False, labelleft=False)
    return ax


top_lefts = [122.4, 562.9, 1003.3, 1443.7, 1885.7]
bot_lefts = [135.9, 573.3, 1013.7, 1452.7, 1891.6]

for i, name in enumerate(domains):
    draw_panel(top_lefts[i], 82, 425, 428, 30, name, colors[i], rh95_points[i], rh95_fits[i],
               (-2.05, 42.05), rh95_ticks, [5, 15, 25, 35], r2_rh95[i], (0.4, 37.3), i == 0)
    draw_panel(bot_lefts[i], 690, 420, 428, 639, name, colors[i], fhd_points[i], fhd_fits[i],
               (-0.2, 4.2), fhd_ticks, [0.5, 1.5, 2.5, 3.5], r2_fhd[i], (0.06, 3.71), i == 0)

fig.text(45 / W, 1 - 294 / H, "H95TH", rotation=90, ha="center", va="center", fontsize=23)
fig.text(1217 / W, 1 - 572 / H, "rh95.calib", ha="center", va="center", fontsize=23)
fig.text(136 / W, 1 - 599 / H, "Foliage Height Diversity on GEDI footprint",
         ha="left", va="center", fontsize=28.5)
fig.text(75 / W, 1 - 904 / H, "NEON Foliage Height Diversity", rotation=90,
         ha="center", va="center", fontsize=23)
fig.text(1224 / W, 1 - 1181 / H, "GEDI Foliage Height Diversity", ha="center",
         va="center", fontsize=23)

# legend along the bottom edge
lax = fig.add_axes([0, 0, 1, 1])
lax.set_xlim(0, W)
lax.set_ylim(H, 0)
lax.axis("off")
lax.text(794, 1276, "domain", ha="left", va="center", fontsize=23)
key_lefts = [912, 1067, 1231, 1383, 1526]
label_lefts = [981, 1133, 1297, 1449, 1595]
for i, name in enumerate(domains):
    lax.add_patch(Rectangle((key_lefts[i], 1252), 49, 50, facecolor="#F2F2F2",
                            edgecolor="none", clip_on=False))
    lax.scatter([key_lefts[i] + 24.5], [1276], s=50, color=colors[i], linewidths=0)
    lax.text(label_lefts[i], 1276, name, ha="left", va="center", fontsize=18.5)

fig.savefig("out.png", dpi=100)
